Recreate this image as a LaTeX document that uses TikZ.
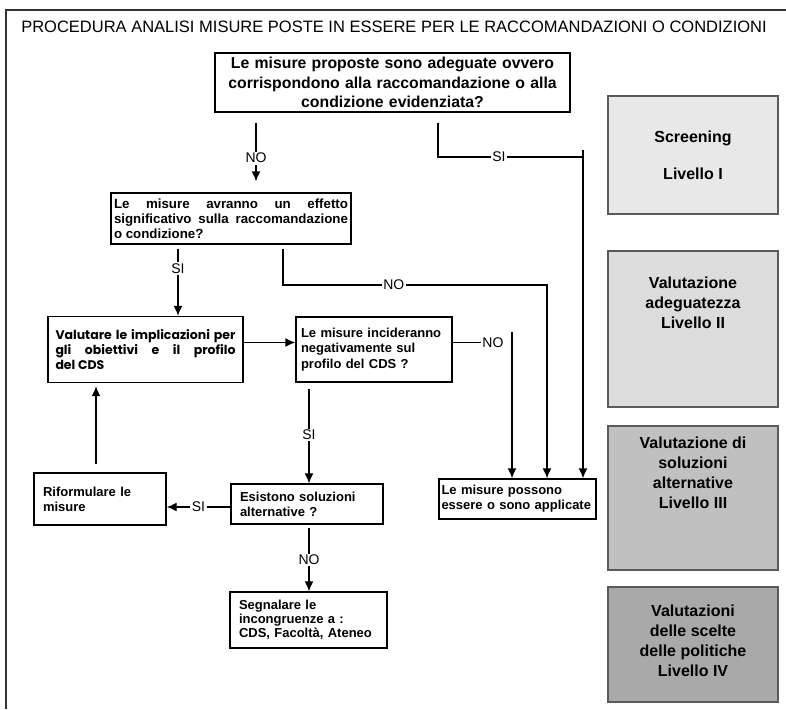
\documentclass[tikz,border=0pt]{standalone}
\usepackage{fontspec}
\setmainfont{Liberation Sans}
\newfontfamily\gothic{Poppins}
\usetikzlibrary{arrows.meta}

\definecolor{lev1}{HTML}{E8E8E8}
\definecolor{lev2}{HTML}{DCDCDC}
\definecolor{lev3}{HTML}{C0C0C0}
\definecolor{lev4}{HTML}{A9A9A9}
\definecolor{levline}{HTML}{5A5A5A}
\definecolor{framecol}{HTML}{333333}

\tikzstyle{box}=[rectangle,draw,line width=1.4pt,fill=white,text=black,font=\bfseries\fontsize{13}{15}\selectfont]
\tikzstyle{level}=[rectangle,draw=levline,line width=1.3pt,minimum width=170pt,align=center,font=\bfseries\fontsize{16}{20}\selectfont]
\tikzstyle{flow}=[->,line width=1.4pt,>={Latex[length=10pt,width=9pt]}]
\tikzstyle{conn}=[line width=1.4pt]
\tikzstyle{lbl}=[fill=white,inner sep=1.5pt,font=\fontsize{14}{16}\selectfont]

\begin{document}
\begin{tikzpicture}[x=1pt,y=-1pt]
  \useasboundingbox (0,0) rectangle (786,709);
  \draw[line width=1.8pt,framecol] (6,709) -- (6,10) -- (786,10);

  \node[font=\fontsize{16.5}{18}\selectfont] (title) at (394,27) {PROCEDURA ANALISI MISURE POSTE IN ESSERE PER LE RACCOMANDAZIONI O CONDIZIONI};

  % domande e azioni
  \node[box,minimum width=355pt,minimum height=59pt,text width=345pt,inner ysep=1pt,align=center,font=\bfseries\fontsize{15.8}{19.5}\selectfont] (q1) at (392.5,82.5) {Le misure proposte sono adeguate ovvero\\corrispondono alla raccomandazione o alla\\condizione evidenziata?};
  \node[box,minimum width=240pt,minimum height=51pt,text width=234pt,inner xsep=3pt,inner ysep=1pt,align=justify,font=\bfseries\fontsize{13.3}{15}\selectfont] (q2) at (231,218.5) {Le misure avranno un effetto\linebreak significativo sulla raccomandazione\linebreak o condizione?};
  \node[box,minimum width=195pt,minimum height=66pt,text width=180pt,inner xsep=7.5pt,align=justify,font=\gothic\bfseries\fontsize{12.5}{15}\selectfont] (eval) at (145.5,349.5) {Valutare le implicazioni per\linebreak gli obiettivi e il profilo\linebreak del CDS};
  \node[box,minimum width=156pt,minimum height=65pt,text width=146pt,inner xsep=5pt,align=left,font=\bfseries\fontsize{13}{15.5}\selectfont] (neg) at (374,349.5) {Le misure incideranno\\negativamente sul\\profilo del CDS ?};
  \node[box,minimum width=132pt,minimum height=52pt,text width=114pt,inner xsep=9pt,align=left] (rif) at (100,499) {Riformulare le\\misure};
  \node[box,minimum width=152pt,minimum height=40pt,text width=134pt,inner xsep=9pt,align=left] (alt) at (307,504) {Esistono soluzioni\\alternative ?};
  \node[box,minimum width=157pt,minimum height=56pt,text width=139pt,inner xsep=9pt,align=left,font=\bfseries\fontsize{13}{14}\selectfont] (segn) at (308.5,620) {Segnalare le\\incongruenze a :\\CDS, Facoltà, Ateneo};
  \node[box,minimum width=157pt,minimum height=40pt,text width=152pt,inner xsep=2.5pt,align=left] (ok) at (517.5,499) {Le misure possono\\essere o sono applicate};

  % livelli
  \node[level,fill=lev1,minimum height=118pt] (liv1) at (693,155) {Screening\\[17pt]Livello I};
  \node[level,fill=lev2,minimum height=156pt,text depth=53pt] (liv2) at (693,329) {Valutazione\\adeguatezza\\Livello II};
  \node[level,fill=lev3,minimum height=144pt,text depth=50pt] (liv3) at (693,498) {Valutazione di\\soluzioni\\alternative\\Livello III};
  \node[level,fill=lev4,minimum height=115pt,text depth=8pt] (liv4) at (693,644.5) {Valutazioni\\delle scelte\\delle politiche\\Livello IV};

  \coordinate (j2) at (583,157);
  \coordinate (j3) at (547,285);
  \coordinate (j4) at (512,332);

  % collegamenti
  \draw[flow,shorten <=10pt,shorten >=11pt] ([xshift=-136.5pt]q1.south) -- node[lbl,pos=0.57] (no1) {NO} ([xshift=25pt]q2.north);
  \draw[conn,shorten <=10pt] ([xshift=45.5pt]q1.south) |- node[lbl,pos=0.71] (si1) {SI} (j2);
  \draw[flow] ([yshift=7pt]j2) -- (ok.north -| j2);
  \draw[flow,shorten <=4pt] ([xshift=-53pt]q2.south) -- node[lbl,pos=0.34] (si2) {SI} ([xshift=32.5pt]eval.north);
  \draw[flow,shorten <=4pt] ([xshift=52pt]q2.south) |- node[lbl,pos=0.71] (no2) {NO} (j3) -- (ok.north -| j3);
  \draw[flow] ([yshift=7pt]eval.east) -- ([yshift=7pt]neg.west);
  \draw[conn] ([yshift=7pt]neg.east) -- ++(28,0) node[anchor=west,inner sep=1pt,font=\fontsize{14}{16}\selectfont] (no3) {NO};
  \draw[flow] (j4) -- (ok.north -| j4);
  \draw[flow,shorten <=6pt] ([xshift=-65pt]neg.south) -- node[lbl,pos=0.52] (si3) {SI} ([xshift=2pt]alt.north);
  \draw[flow] ([yshift=-3pt]alt.west) -- node[lbl] (si4) {SI} ([yshift=-8pt]rif.east);
  \draw[flow,shorten <=3pt] ([xshift=2pt]alt.south) -- node[lbl,pos=0.53] (no4) {NO} ([xshift=0.5pt]segn.north);
  \draw[flow,shorten <=8pt,shorten >=3pt] ([xshift=-4pt]rif.north) -- ([xshift=-49.5pt]eval.south);

\end{tikzpicture}
\end{document}
